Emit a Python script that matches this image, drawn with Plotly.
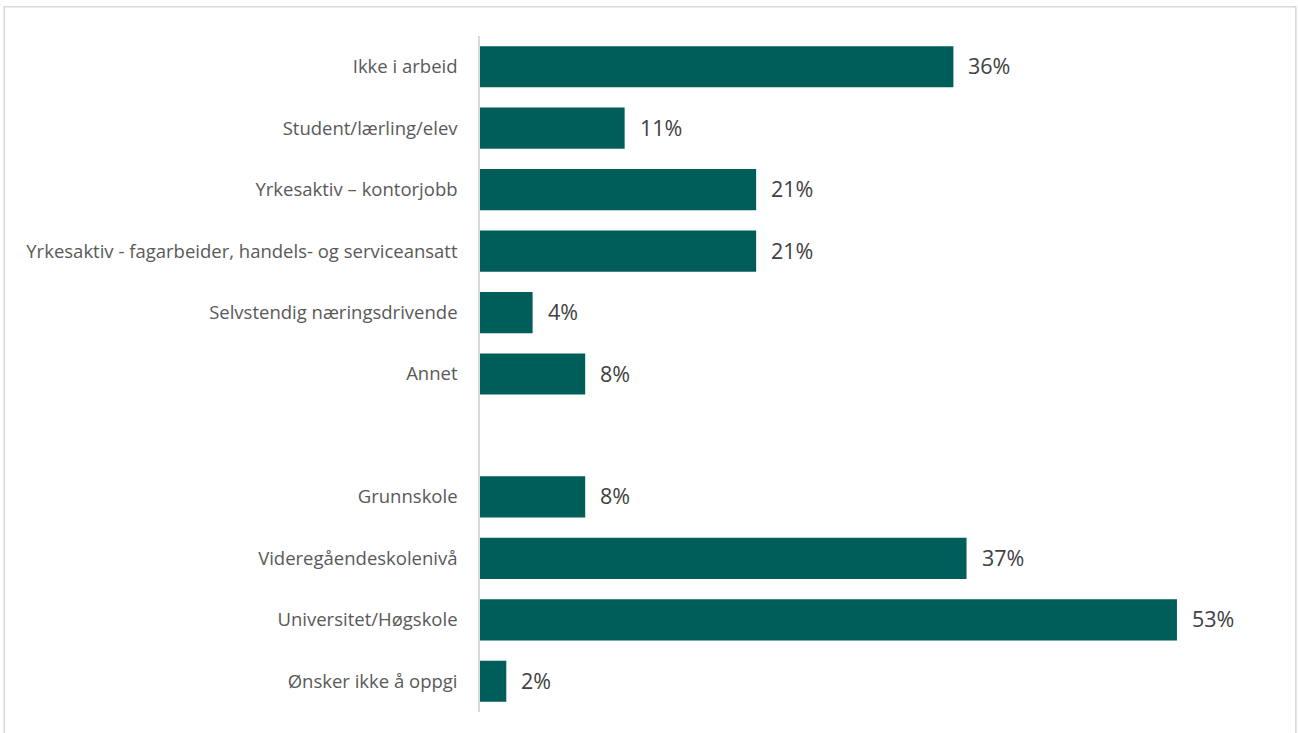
import plotly.graph_objects as go

# Survey shares (percent) by occupation and education; " " is an empty spacer row
categories = [
    "Ikke i arbeid",
    "Student/lærling/elev",
    "Yrkesaktiv – kontorjobb",
    "Yrkesaktiv - fagarbeider, handels- og serviceansatt",
    "Selvstendig næringsdrivende",
    "Annet",
    " ",
    "Grunnskole",
    "Videregåendeskolenivå",
    "Universitet/Høgskole",
    "Ønsker ikke å oppgi",
]
values = [36, 11, 21, 21, 4, 8, None, 8, 37, 53, 2]

BAR = "#005E5A"
LABEL_FONT = "Open Sans"

fig = go.Figure(
    go.Bar(
        x=values,
        y=categories,
        orientation="h",
        marker=dict(color=BAR, line=dict(width=0)),
        hoverinfo="skip",
    )
)

# value labels just right of each bar end
for cat, v in zip(categories, values):
    if v is None:
        continue
    fig.add_annotation(
        x=v, y=cat, text=f"{v}%", showarrow=False,
        xanchor="left", xshift=13, yshift=1,
        font=dict(family=LABEL_FONT, size=21.5, color="#404040"),
    )

# light frame around the chart area
fig.add_shape(
    type="rect", xref="paper", yref="paper",
    x0=-0.603, x1=1.034, y0=-0.06, y1=1.0433,
    line=dict(color="#D9D9D9", width=1.5), fillcolor="rgba(0,0,0,0)",
    layer="below",
)

fig.update_layout(
    width=1298, height=733,
    margin=dict(l=480, r=29, t=36, b=21),
    paper_bgcolor="white", plot_bgcolor="white",
    bargap=0.33,
    showlegend=False,
    font=dict(family=LABEL_FONT, color="#595959"),
    xaxis=dict(range=[0, 60], visible=False, fixedrange=True),
    yaxis=dict(
        categoryorder="array", categoryarray=categories, autorange="reversed",
        showline=True, linecolor="#D9D9D9", linewidth=1.5,
        showgrid=False, ticks="", ticklabelstandoff=17,
        tickfont=dict(family=LABEL_FONT, size=18.5, color="#595959"),
        fixedrange=True,
    ),
)

fig.write_html("out.html")
